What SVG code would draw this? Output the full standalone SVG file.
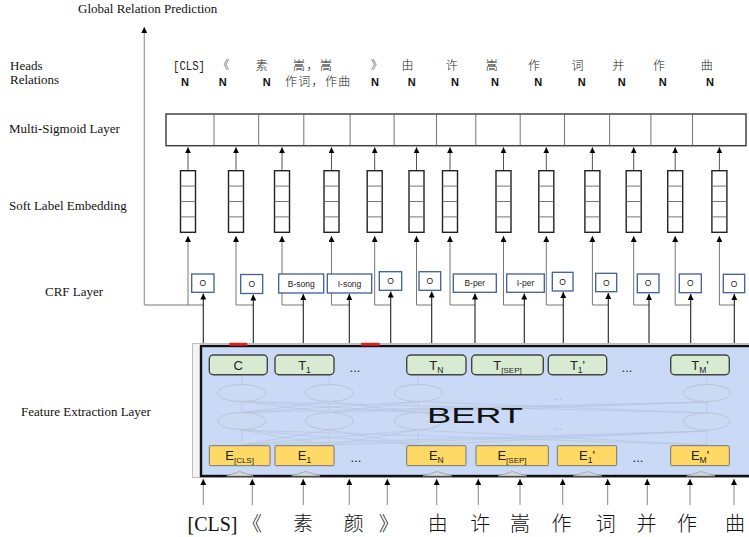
<svg xmlns="http://www.w3.org/2000/svg" width="749" height="537" viewBox="0 0 749 537">
<style>
.lbl{font-family:"Liberation Serif","Times New Roman",serif;font-size:13px;fill:#111}
.cjk{font-family:"Noto Sans CJK SC",sans-serif;font-size:12px;fill:#222;font-weight:300}
.n{font-family:"Liberation Sans",Arial,sans-serif;font-size:11px;font-weight:bold;fill:#111}
.big{font-family:"Liberation Serif","Noto Sans CJK SC",serif;font-size:20px;fill:#111}
.crf{fill:#fff;stroke:#3f5f96;stroke-width:1.3}
.crft{font-family:"Liberation Sans",Arial,sans-serif;font-size:8.5px;fill:#222;text-anchor:middle}
.emb{fill:#fff;stroke:#222;stroke-width:1.4}
.div{stroke:#666;stroke-width:0.9}
.tbox{fill:#d9ead3;stroke:#444;stroke-width:1.4}
.ebox{fill:#ffd966;stroke:#777;stroke-width:1}
.bt{font-family:"Liberation Sans",Arial,sans-serif;font-size:13px;fill:#222;text-anchor:middle}
.gh{fill:#ccd9f3;stroke:#b9c4de;stroke-width:1}
.gl{stroke:#b9c4de;stroke-width:0.7;fill:none}
.conn{stroke:#777;stroke-width:1;fill:none}
.dark{stroke:#222;stroke-width:1.1;fill:none}
.tri{fill:#d6d6d6;stroke:#a0a0a0;stroke-width:0.8}
</style>
<defs>
<marker id="ah" viewBox="0 0 10 10" refX="10" refY="5" markerWidth="6" markerHeight="6" markerUnits="userSpaceOnUse" orient="auto"><path d="M0,0 L10,5 L0,10 z" fill="#000"/></marker>
</defs>

<!-- left labels -->
<g id="labels">
<text class="lbl" x="78" y="13">Global Relation Prediction</text>
<text class="lbl" x="10" y="70">Heads</text>
<text class="lbl" x="10" y="84">Relations</text>
<text class="lbl" x="9" y="133">Multi-Sigmoid Layer</text>
<text class="lbl" x="9" y="210">Soft Label Embedding</text>
<text class="lbl" x="45" y="296">CRF Layer</text>
<text class="lbl" x="21" y="416">Feature Extraction Layer</text>
</g>

<!-- heads row -->
<g id="heads">
<text x="173" y="70" font-family="Liberation Mono, monospace" font-size="12" fill="#222" textLength="32" lengthAdjust="spacingAndGlyphs">[CLS]</text>
<g class="cjk" text-anchor="middle">
<text x="223.5" y="70">《</text>
<text x="261.7" y="70">素</text>
<text x="376.7" y="70">》</text>
<text x="407.5" y="70">由</text>
<text x="451.7" y="70">许</text>
<text x="491.7" y="70">嵩</text>
<text x="534" y="70">作</text>
<text x="577.5" y="70">词</text>
<text x="618.3" y="70">并</text>
<text x="659" y="70">作</text>
<text x="706.7" y="70">曲</text>
</g>
<text class="cjk" x="293" y="70" letter-spacing="1.5" font-size="13">嵩，嵩</text>
</g>
<g id="relations">
<g class="n" text-anchor="middle">
<text x="185" y="86">N</text>
<text x="222.7" y="86">N</text>
<text x="266.7" y="86">N</text>
<text x="375" y="86">N</text>
<text x="411.7" y="86">N</text>
<text x="455" y="86">N</text>
<text x="495" y="86">N</text>
<text x="538.3" y="86">N</text>
<text x="581.7" y="86">N</text>
<text x="621.7" y="86">N</text>
<text x="662.7" y="86">N</text>
<text x="710" y="86">N</text>
</g>
<text class="cjk" x="285" y="86" letter-spacing="1.3" font-size="13">作词，作曲</text>
</g>

<!-- connectors -->
<g id="connectors">
<line x1="144.3" y1="305" x2="144.3" y2="27" stroke="#999" stroke-width="1.2" marker-end="url(#ah)"/>
<line x1="144.3" y1="305" x2="203.3" y2="305" class="conn"/>
<g class="conn">
<path d="M236,305 H253.3"/><path d="M282,305 H303.3"/><path d="M331.5,305 H349.3"/>
<path d="M374.7,305 H390.7"/><path d="M416.5,305 H431.7"/><path d="M450,305 H475"/>
<path d="M503.5,305 H524.3"/><path d="M546.3,305 H563.3"/><path d="M592.4,305 H608.3"/>
<path d="M633.7,305 H649"/><path d="M675.2,305 H690.7"/><path d="M719.4,305 H734.3"/>
</g>
<!-- into soft label embedding -->
<g class="conn" marker-end="url(#ah)">
<line x1="188" y1="305" x2="188" y2="236"/>
<line x1="236" y1="305" x2="236" y2="236"/>
<line x1="282" y1="305" x2="282" y2="236"/>
<line x1="331.5" y1="305" x2="331.5" y2="236"/>
<line x1="374.7" y1="305" x2="374.7" y2="236"/>
<line x1="416.5" y1="305" x2="416.5" y2="236"/>
<line x1="450" y1="305" x2="450" y2="236"/>
<line x1="503.5" y1="305" x2="503.5" y2="236"/>
<line x1="546.3" y1="305" x2="546.3" y2="236"/>
<line x1="592.4" y1="305" x2="592.4" y2="236"/>
<line x1="633.7" y1="305" x2="633.7" y2="236"/>
<line x1="675.2" y1="305" x2="675.2" y2="236"/>
<line x1="719.4" y1="305" x2="719.4" y2="236"/>
</g>
<!-- into multi-sigmoid -->
<g stroke="#555" stroke-width="1" marker-end="url(#ah)">
<line x1="188" y1="170.7" x2="188" y2="147.3"/>
<line x1="236" y1="170.7" x2="236" y2="147.3"/>
<line x1="282" y1="170.7" x2="282" y2="147.3"/>
<line x1="331.5" y1="170.7" x2="331.5" y2="147.3"/>
<line x1="374.7" y1="170.7" x2="374.7" y2="147.3"/>
<line x1="416.5" y1="170.7" x2="416.5" y2="147.3"/>
<line x1="450" y1="170.7" x2="450" y2="147.3"/>
<line x1="503.5" y1="170.7" x2="503.5" y2="147.3"/>
<line x1="546.3" y1="170.7" x2="546.3" y2="147.3"/>
<line x1="592.4" y1="170.7" x2="592.4" y2="147.3"/>
<line x1="633.7" y1="170.7" x2="633.7" y2="147.3"/>
<line x1="675.2" y1="170.7" x2="675.2" y2="147.3"/>
<line x1="719.4" y1="170.7" x2="719.4" y2="147.3"/>
</g>
<!-- BERT to CRF -->
<g class="dark" marker-end="url(#ah)">
<line x1="203.3" y1="346" x2="203.3" y2="293.5"/>
<line x1="253.3" y1="346" x2="253.3" y2="294.5"/>
<line x1="303.3" y1="346" x2="303.3" y2="294"/>
<line x1="349.3" y1="346" x2="349.3" y2="294"/>
<line x1="390.7" y1="346" x2="390.7" y2="291.5"/>
<line x1="431.7" y1="346" x2="431.7" y2="291.5"/>
<line x1="475" y1="346" x2="475" y2="293.5"/>
<line x1="524.3" y1="346" x2="524.3" y2="293.5"/>
<line x1="563.3" y1="346" x2="563.3" y2="292"/>
<line x1="608.3" y1="346" x2="608.3" y2="293"/>
<line x1="649" y1="346" x2="649" y2="294"/>
<line x1="690.7" y1="346" x2="690.7" y2="294"/>
<line x1="734.3" y1="346" x2="734.3" y2="294"/>
</g>
<!-- input tokens to BERT -->
<g stroke="#888" stroke-width="1" marker-end="url(#ah)">
<line x1="203.3" y1="505" x2="203.3" y2="479"/>
<line x1="252.3" y1="505" x2="252.3" y2="479"/>
<line x1="303.3" y1="505" x2="303.3" y2="479"/>
<line x1="349.3" y1="505" x2="349.3" y2="479"/>
<line x1="387.3" y1="505" x2="387.3" y2="479"/>
<line x1="436.7" y1="505" x2="436.7" y2="479"/>
<line x1="478.3" y1="505" x2="478.3" y2="479"/>
<line x1="520" y1="505" x2="520" y2="479"/>
<line x1="562.7" y1="505" x2="562.7" y2="479"/>
<line x1="607.7" y1="505" x2="607.7" y2="479"/>
<line x1="647.3" y1="505" x2="647.3" y2="479"/>
<line x1="690" y1="505" x2="690" y2="479"/>
<line x1="734" y1="505" x2="734" y2="479"/>
</g>
</g>

<!-- multi-sigmoid layer -->
<g id="multi-sigmoid">
<rect x="166" y="114" width="580" height="31.7" fill="#fff" stroke="#444" stroke-width="1.5"/>
<g class="div">
<line x1="214" y1="114" x2="214" y2="145.7"/><line x1="258.7" y1="114" x2="258.7" y2="145.7"/>
<line x1="303.8" y1="114" x2="303.8" y2="145.7"/><line x1="350.1" y1="114" x2="350.1" y2="145.7"/>
<line x1="394.1" y1="114" x2="394.1" y2="145.7"/><line x1="436.5" y1="114" x2="436.5" y2="145.7"/>
<line x1="475.8" y1="114" x2="475.8" y2="145.7"/><line x1="520.2" y1="114" x2="520.2" y2="145.7"/>
<line x1="564.5" y1="114" x2="564.5" y2="145.7"/><line x1="609.6" y1="114" x2="609.6" y2="145.7"/>
<line x1="650.9" y1="114" x2="650.9" y2="145.7"/><line x1="692.5" y1="114" x2="692.5" y2="145.7"/>
</g>
</g>

<!-- soft label embeddings -->
<g id="soft-label-embedding">
<g id="emb-cells">
<rect class="emb" x="180.5" y="170.7" width="15" height="61.6"/>
<rect class="emb" x="228.5" y="170.7" width="15" height="61.6"/>
<rect class="emb" x="274.5" y="170.7" width="15" height="61.6"/>
<rect class="emb" x="324" y="170.7" width="15" height="61.6"/>
<rect class="emb" x="367.2" y="170.7" width="15" height="61.6"/>
<rect class="emb" x="409" y="170.7" width="15" height="61.6"/>
<rect class="emb" x="442.5" y="170.7" width="15" height="61.6"/>
<rect class="emb" x="496" y="170.7" width="15" height="61.6"/>
<rect class="emb" x="538.8" y="170.7" width="15" height="61.6"/>
<rect class="emb" x="584.9" y="170.7" width="15" height="61.6"/>
<rect class="emb" x="626.2" y="170.7" width="15" height="61.6"/>
<rect class="emb" x="667.7" y="170.7" width="15" height="61.6"/>
<rect class="emb" x="711.9" y="170.7" width="15" height="61.6"/>
</g>
<g class="div">
<path d="M180.5,186.1h15M180.5,201.5h15M180.5,216.9h15"/>
<path d="M228.5,186.1h15M228.5,201.5h15M228.5,216.9h15"/>
<path d="M274.5,186.1h15M274.5,201.5h15M274.5,216.9h15"/>
<path d="M324,186.1h15M324,201.5h15M324,216.9h15"/>
<path d="M367.2,186.1h15M367.2,201.5h15M367.2,216.9h15"/>
<path d="M409,186.1h15M409,201.5h15M409,216.9h15"/>
<path d="M442.5,186.1h15M442.5,201.5h15M442.5,216.9h15"/>
<path d="M496,186.1h15M496,201.5h15M496,216.9h15"/>
<path d="M538.8,186.1h15M538.8,201.5h15M538.8,216.9h15"/>
<path d="M584.9,186.1h15M584.9,201.5h15M584.9,216.9h15"/>
<path d="M626.2,186.1h15M626.2,201.5h15M626.2,216.9h15"/>
<path d="M667.7,186.1h15M667.7,201.5h15M667.7,216.9h15"/>
<path d="M711.9,186.1h15M711.9,201.5h15M711.9,216.9h15"/>
</g>
</g>

<!-- CRF layer -->
<g id="crf-layer">
<g id="crf-1"><rect class="crf" x="191.7" y="274" width="22.3" height="18.3"/><text class="crft" x="202.8" y="286">O</text></g>
<g id="crf-2"><rect class="crf" x="240.7" y="274.5" width="22" height="19"/><text class="crft" x="251.7" y="287">O</text></g>
<g id="crf-3"><rect class="crf" x="278.7" y="274" width="45" height="19"/><text class="crft" x="301.2" y="286.5">B-song</text></g>
<g id="crf-4"><rect class="crf" x="327.3" y="274" width="44.4" height="19"/><text class="crft" x="349.5" y="286.5">I-song</text></g>
<g id="crf-5"><rect class="crf" x="379.3" y="271.7" width="22.4" height="18.6"/><text class="crft" x="390.5" y="284">O</text></g>
<g id="crf-6"><rect class="crf" x="419" y="271.7" width="21.7" height="18.6"/><text class="crft" x="429.8" y="284">O</text></g>
<g id="crf-7"><rect class="crf" x="453.3" y="274" width="43" height="18.3"/><text class="crft" x="474.8" y="286">B-per</text></g>
<g id="crf-8"><rect class="crf" x="506.7" y="274" width="37.6" height="18.3"/><text class="crft" x="525.5" y="286">I-per</text></g>
<g id="crf-9"><rect class="crf" x="552.3" y="272.3" width="20.7" height="18.7"/><text class="crft" x="562.6" y="284.5">O</text></g>
<g id="crf-10"><rect class="crf" x="595.7" y="273.3" width="21" height="18.4"/><text class="crft" x="606.2" y="285.5">O</text></g>
<g id="crf-11"><rect class="crf" x="637.3" y="274" width="21.7" height="18.7"/><text class="crft" x="648.1" y="286.3">O</text></g>
<g id="crf-12"><rect class="crf" x="679.3" y="274" width="22" height="18.7"/><text class="crft" x="690.3" y="286.3">O</text></g>
<g id="crf-13"><rect class="crf" x="723.3" y="274.3" width="21.4" height="18.4"/><text class="crft" x="734" y="286.5">O</text></g>
</g>

<!-- BERT -->
<g id="bert">
<rect x="192.5" y="343.5" width="600" height="134" fill="#f3f3f3" stroke="#bdbdbd" stroke-width="1"/>
<rect x="201" y="346" width="600" height="130" fill="#c9d9f6" stroke="#111" stroke-width="2.4"/>
<rect x="229.3" y="342.8" width="18" height="3" fill="#e0201c"/>
<rect x="361" y="342.8" width="18.7" height="3" fill="#e0201c"/>
<!-- ghost network -->
<g class="gl">
<line x1="241.7" y1="445" x2="241.7" y2="429.5"/><line x1="329.3" y1="445" x2="329.3" y2="429.5"/>
<line x1="418.3" y1="445" x2="418.3" y2="429.5"/><line x1="706.7" y1="445" x2="706.7" y2="430"/>
<line x1="241.7" y1="412.5" x2="241.7" y2="401.5"/><line x1="329.3" y1="412.5" x2="329.3" y2="401.5"/>
<line x1="418.3" y1="412.5" x2="418.3" y2="401.5"/><line x1="706.7" y1="413" x2="706.7" y2="401.5"/>
<line x1="241.7" y1="384.5" x2="241.7" y2="375"/><line x1="329.3" y1="384.5" x2="329.3" y2="375"/>
<line x1="418.3" y1="384.5" x2="418.3" y2="375"/><line x1="706.7" y1="384.5" x2="706.7" y2="375"/>
<path d="M241.7,445 L329.3,430 M241.7,445 L418.3,430 M241.7,445 L706.7,431 M329.3,445 L241.7,430 M329.3,445 L418.3,430 M329.3,445 L706.7,431 M418.3,445 L241.7,430 M418.3,445 L329.3,430 M418.3,445 L706.7,431 M706.7,445 L241.7,430 M706.7,445 L418.3,430"/>
<path d="M241.7,412.5 L329.3,401.5 M241.7,412.5 L418.3,401.5 M241.7,412.5 L706.7,402 M329.3,412.5 L241.7,401.5 M329.3,412.5 L418.3,401.5 M329.3,412.5 L706.7,402 M418.3,412.5 L241.7,401.5 M418.3,412.5 L329.3,401.5 M418.3,412.5 L706.7,402 M706.7,413 L241.7,401.5 M706.7,413 L418.3,401.5"/>
</g>
<g class="gh">
<ellipse cx="241.7" cy="393" rx="24" ry="8.5"/><ellipse cx="329.3" cy="393" rx="24" ry="8.5"/>
<ellipse cx="418.3" cy="393" rx="24" ry="8.5"/><ellipse cx="706.7" cy="393" rx="23.5" ry="8.5"/>
<ellipse cx="241.7" cy="421" rx="24" ry="8.5"/><ellipse cx="329.3" cy="421" rx="24" ry="8.5"/>
<ellipse cx="418.3" cy="421" rx="24" ry="8.5"/><ellipse cx="706.7" cy="421.5" rx="23.5" ry="8.5"/>
</g>
<text x="558" y="400" font-family="Liberation Sans, Arial, sans-serif" font-size="10" fill="#aab3c8" text-anchor="middle">...</text>
<text x="558" y="430" font-family="Liberation Sans, Arial, sans-serif" font-size="10" fill="#aab3c8" text-anchor="middle">...</text>
<text x="475" y="422.5" font-family="Liberation Sans, Arial, sans-serif" font-size="22" fill="#111" text-anchor="middle" textLength="96" lengthAdjust="spacingAndGlyphs">BERT</text>
<!-- output tokens -->
<g id="bert-out-c"><rect class="tbox" x="209.3" y="355" width="58" height="19.7" rx="4"/><text class="bt" x="238.3" y="369.5">C</text></g>
<g id="bert-out-t1"><rect class="tbox" x="275" y="355" width="59" height="19.7" rx="4"/><text class="bt" x="304.5" y="369.5">T<tspan font-size="8.5" dy="3">1</tspan></text></g>
<text class="bt" x="355" y="372">...</text>
<g id="bert-out-tn"><rect class="tbox" x="406.7" y="355" width="59.3" height="19.7" rx="4"/><text class="bt" x="436.3" y="369.5">T<tspan font-size="8.5" dy="3">N</tspan></text></g>
<g id="bert-out-tsep"><rect class="tbox" x="471.7" y="355" width="71.6" height="19.7" rx="4"/><text class="bt" x="507.5" y="369.5">T<tspan font-size="8" dy="3">[SEP]</tspan></text></g>
<g id="bert-out-t1p"><rect class="tbox" x="548.3" y="355" width="58.4" height="19.7" rx="4"/><text class="bt" x="577.5" y="369.5">T<tspan font-size="8.5" dy="3">1</tspan><tspan dy="-3">'</tspan></text></g>
<text class="bt" x="627" y="372">...</text>
<g id="bert-out-tmp"><rect class="tbox" x="670.7" y="355" width="58.6" height="19.7" rx="4"/><text class="bt" x="700" y="369.5">T<tspan font-size="8.5" dy="3">M</tspan><tspan dy="-3">'</tspan></text></g>
<!-- input embeddings -->
<g id="bert-in-ecls"><rect class="ebox" x="209.3" y="445.7" width="60.7" height="20" rx="1"/><text class="bt" x="239.6" y="460">E<tspan font-size="8" dy="2.5">[CLS]</tspan></text></g>
<g id="bert-in-e1"><rect class="ebox" x="275" y="445.7" width="59" height="20" rx="1"/><text class="bt" x="304.5" y="460">E<tspan font-size="8.5" dy="3">1</tspan></text></g>
<text class="bt" x="356" y="462">...</text>
<g id="bert-in-en"><rect class="ebox" x="406.7" y="445.7" width="59.3" height="20" rx="1"/><text class="bt" x="436.3" y="460">E<tspan font-size="8.5" dy="3">N</tspan></text></g>
<g id="bert-in-esep"><rect class="ebox" x="476" y="445.7" width="72.3" height="20" rx="1"/><text class="bt" x="512" y="460">E<tspan font-size="8" dy="3">[SEP]</tspan></text></g>
<g id="bert-in-e1p"><rect class="ebox" x="557.3" y="445.7" width="59.4" height="20" rx="1"/><text class="bt" x="587" y="460">E<tspan font-size="8.5" dy="3">1</tspan><tspan dy="-3">'</tspan></text></g>
<text class="bt" x="638" y="462">...</text>
<g id="bert-in-emp"><rect class="ebox" x="670.7" y="445.7" width="58.6" height="20" rx="1"/><text class="bt" x="700" y="460">E<tspan font-size="8.5" dy="3">M</tspan><tspan dy="-3">'</tspan></text></g>
<!-- bottom peaks -->
<polygon class="tri" points="226.7,476 239.5,471.5 253.3,476"/>
<polygon class="tri" points="291.7,476 305.8,471.5 320,476"/>
<polygon class="tri" points="423,476 437,471.5 451.7,476"/>
<polygon class="tri" points="498.3,476 512.5,471.5 526.7,476"/>
<polygon class="tri" points="573.3,476 587.5,471.5 601.7,476"/>
<polygon class="tri" points="686.7,476 701,471.5 715,476"/>
</g>

<!-- input tokens -->
<g id="input-tokens">
<text class="big" x="212.5" y="531" text-anchor="middle">[CLS]</text>
<g class="big" text-anchor="middle" font-family="Noto Sans CJK SC, sans-serif" font-size="19" font-weight="300">
<text x="252" y="531">《</text>
<text x="303" y="531">素</text>
<text x="353.7" y="531">颜</text>
<text x="388.8" y="531">》</text>
<text x="437.7" y="531">由</text>
<text x="480.2" y="531">许</text>
<text x="519.9" y="531">嵩</text>
<text x="561.4" y="531">作</text>
<text x="605.8" y="531">词</text>
<text x="646.4" y="531">并</text>
<text x="687" y="531">作</text>
<text x="735" y="531">曲</text>
</g>
</g>
</svg>
